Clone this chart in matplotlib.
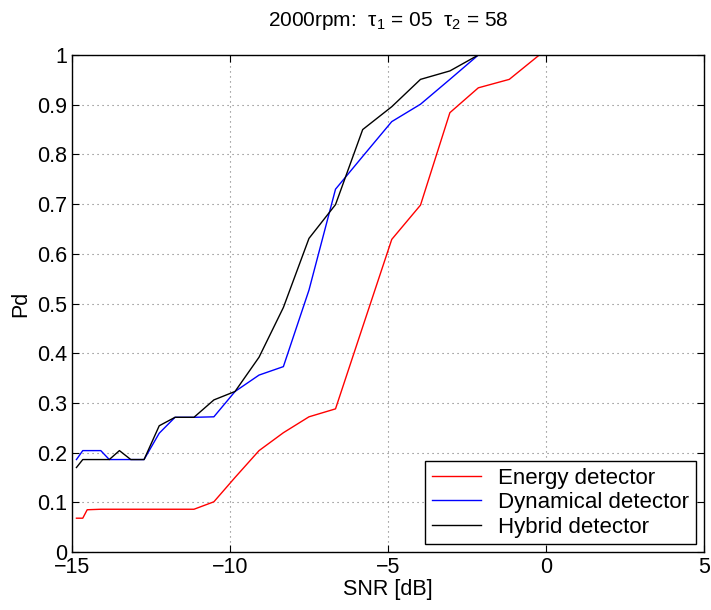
import matplotlib
matplotlib.use("Agg")
import matplotlib.pyplot as plt

plt.rcParams['font.family'] = ['Liberation Sans', 'DejaVu Sans']
plt.rcParams['mathtext.fontset'] = 'custom'
plt.rcParams['mathtext.rm'] = 'Liberation Sans'
plt.rcParams['mathtext.it'] = 'Liberation Sans'

snr = [-14.86, -14.66, -14.52, -14.09, -13.82, -13.5, -13.14, -12.72, -12.24, -11.74,
       -11.14, -10.51, -9.84, -9.08, -8.31, -7.5, -6.66, -5.8, -4.88, -3.97,
       -3.04, -2.14, -1.16, -0.21, 5.0]
energy = [0.068, 0.068, 0.085, 0.086, 0.086, 0.086, 0.086, 0.086, 0.086, 0.086,
          0.086, 0.101, 0.150, 0.204, 0.240, 0.272, 0.288, 0.453, 0.629, 0.698,
          0.884, 0.934, 0.951, 1.0, 1.0]
dynamical = [0.186, 0.204, 0.204, 0.204, 0.186, 0.186, 0.186, 0.186, 0.239, 0.271,
             0.271, 0.272, 0.323, 0.356, 0.373, 0.527, 0.730, 0.796, 0.866, 0.901,
             0.951, 1.0, 1.0, 1.0, 1.0]
hybrid = [0.170, 0.186, 0.186, 0.186, 0.186, 0.204, 0.186, 0.186, 0.254, 0.271,
          0.271, 0.306, 0.323, 0.392, 0.492, 0.631, 0.699, 0.850, 0.896, 0.951,
          0.968, 1.0, 1.0, 1.0, 1.0]

xticks = [-15, -10, -5, 0, 5]
yticks = [0, 0.1, 0.2, 0.3, 0.4, 0.5, 0.6, 0.7, 0.8, 0.9, 1]
ytick_labels = ['0', '0.1', '0.2', '0.3', '0.4', '0.5', '0.6', '0.7', '0.8', '0.9', '1']
xtick_labels = ['\u221215', '\u221210', '\u22125', '0', '5']

fig = plt.figure(figsize=(7.11, 6.10), dpi=100)
ax = fig.add_axes([0.1013, 0.0951, 0.8887, 0.8147])

ax.plot(snr, energy, color='#ff0000', lw=1.0, label='Energy detector')
ax.plot(snr, dynamical, color='#0000ff', lw=1.0, label='Dynamical detector')
ax.plot(snr, hybrid, color='#000000', lw=1.0, label='Hybrid detector')

ax.set_xlim(-15, 5)
ax.set_ylim(0, 1)
ax.set_xticks(xticks)
ax.set_xticklabels(xtick_labels)
ax.set_yticks(yticks)
ax.set_yticklabels(ytick_labels)
ax.tick_params(direction='in', top=True, right=True, length=5, width=0.8,
               labelsize=15.5, pad=3.5)
ax.grid(True, color='#777777', linestyle=(0, (1, 3.5)), linewidth=0.8)
for s in ax.spines.values():
    s.set_linewidth(1.0)

ax.set_xlabel('SNR [dB]', fontsize=15.5, labelpad=1)
ax.set_ylabel('Pd', fontsize=15.5, labelpad=4)
ax.set_title('2000rpm:  $\\tau_1$ = 05  $\\tau_2$ = 58', fontsize=15, pad=21)

leg = ax.legend(loc='lower right', fontsize=16, frameon=True, fancybox=False,
                edgecolor='black', framealpha=1, borderaxespad=0.35,
                handlelength=2.2, labelspacing=0.15, borderpad=0.3, handletextpad=0.8)
leg.get_frame().set_linewidth(1.0)

fig.savefig('out.png', dpi=100)
